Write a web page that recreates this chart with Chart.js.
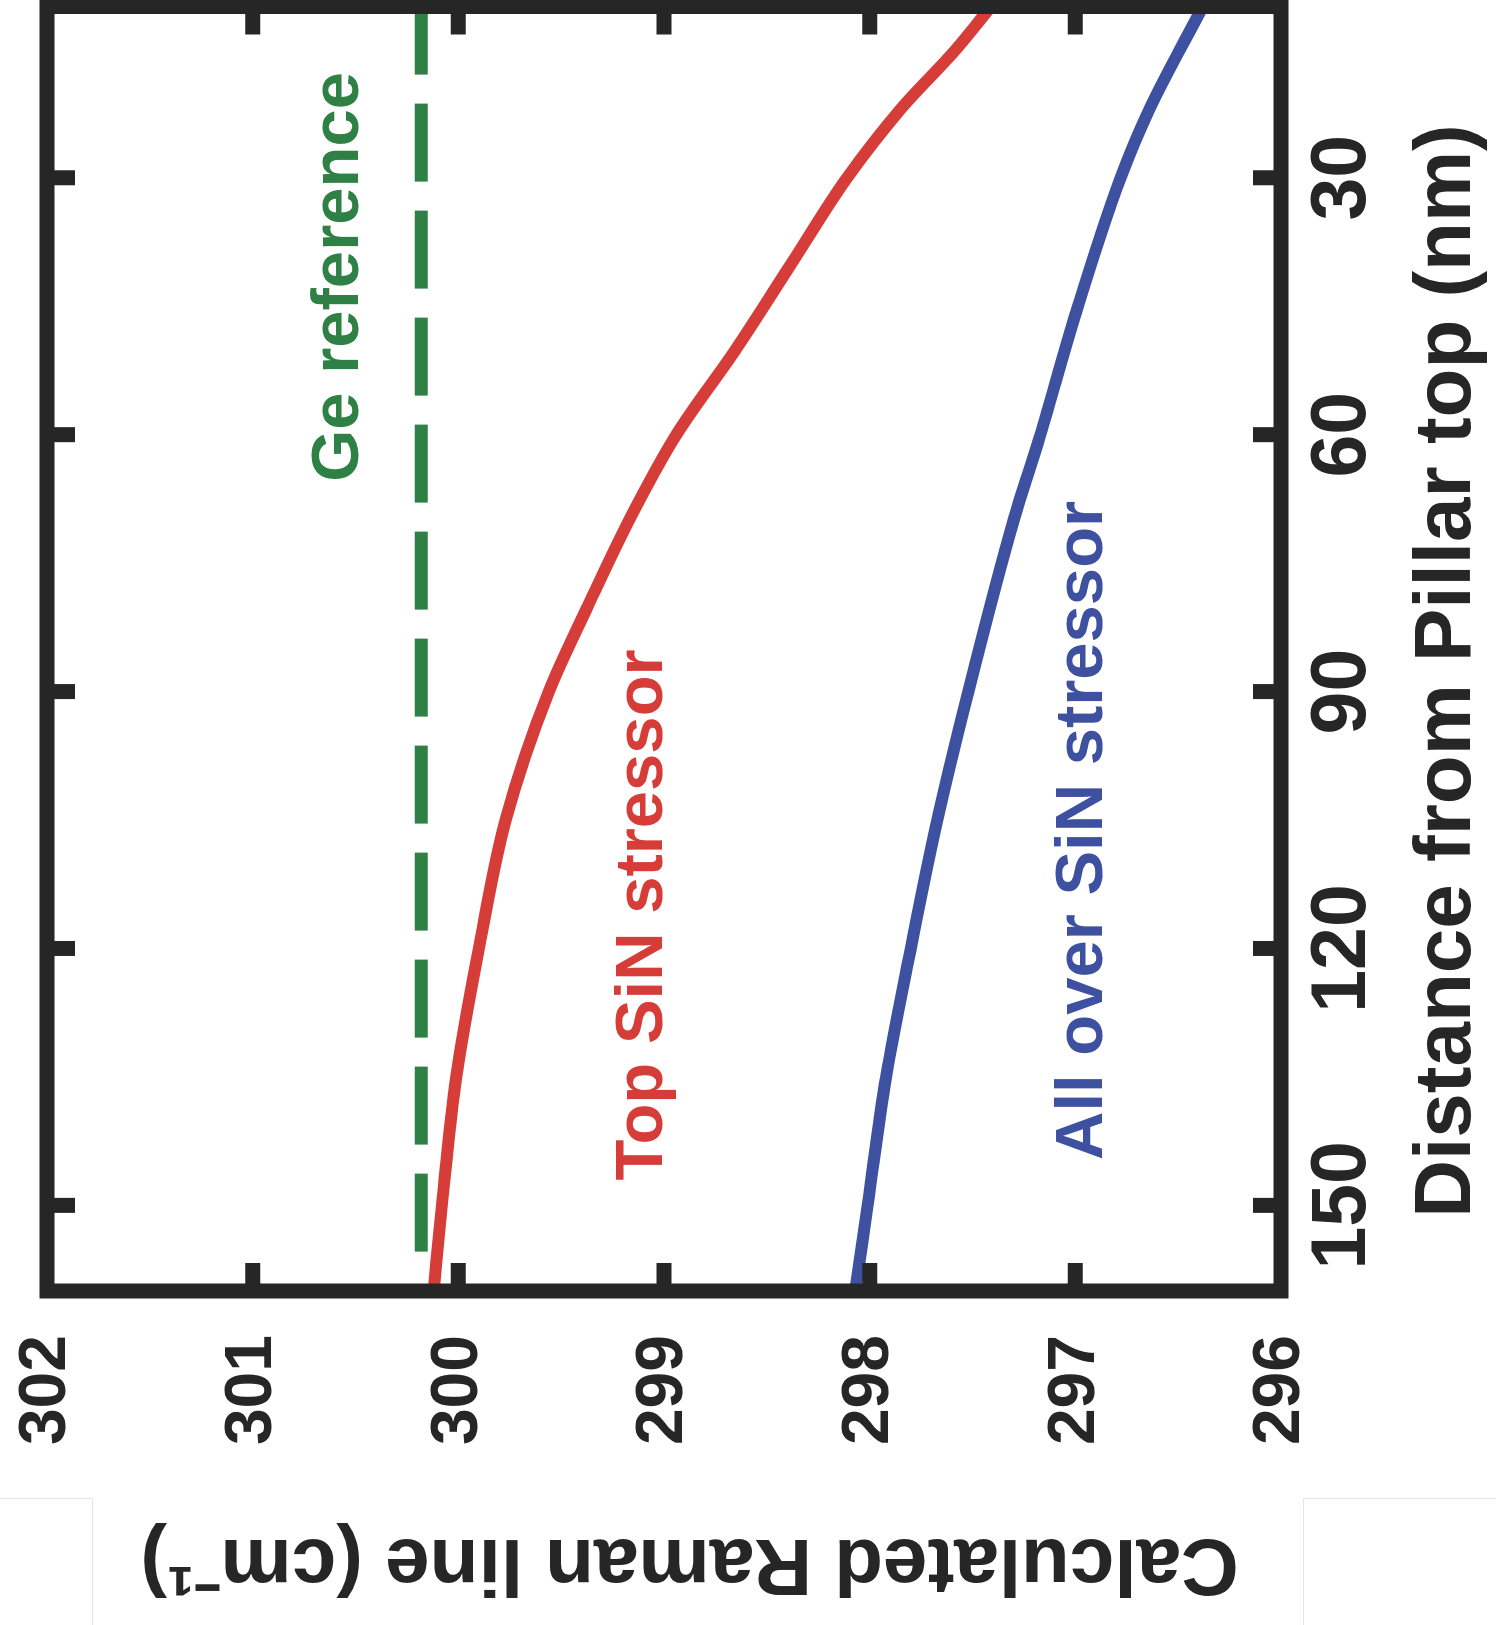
<!DOCTYPE html>
<html>
<head>
<meta charset="utf-8">
<title>Calculated Raman line</title>
<script src="https://cdn.jsdelivr.net/npm/chart.js@4.4.0/dist/chart.umd.min.js"></script>
<style>
  html, body { margin: 0; padding: 0; background: #fff; }
  body { width: 1496px; height: 1625px; position: relative; overflow: hidden; }
  /* the figure is drawn upright, then turned a quarter turn counter-clockwise */
  #wrap {
    position: absolute; left: 0; top: 0;
    width: 1625px; height: 1496px;
    transform-origin: 0 0;
    transform: translate(0, 1625px) rotate(-90deg);
  }
  .edge { position: absolute; background: #e6e6e6; }
</style>
</head>
<body>
<div id="wrap"><canvas id="ramanChart" width="1625" height="1496"></canvas></div>
<div class="edge" style="left:0;top:1498px;width:92px;height:1px"></div>
<div class="edge" style="left:92px;top:1498px;width:1px;height:127px"></div>
<div class="edge" style="left:1303px;top:1498px;width:193px;height:1px"></div>
<div class="edge" style="left:1303px;top:1498px;width:1px;height:127px"></div>
<script>
// axis ticks
const distTicks = [30, 60, 90, 120, 150];
const ramanTicks = [296, 297, 298, 299, 300, 301, 302];

// Top SiN stressor (red)
const topSinDist = [10, 15, 22, 30, 40, 50, 60, 70, 80, 90, 105, 120, 135, 150, 160];
const topSinRaman = [297.41, 297.58, 297.85, 298.11, 298.38, 298.65, 298.94, 299.17, 299.37, 299.56, 299.77, 299.90, 300.01, 300.08, 300.12];

// All over SiN stressor (blue)
const allOverDist = [10, 22, 30, 46, 60, 70, 90, 106, 120, 135, 150, 160];
const allOverRaman = [296.38, 296.64, 296.78, 297.00, 297.17, 297.30, 297.52, 297.68, 297.80, 297.92, 298.01, 298.07];

// Ge reference (green, dashed)
const geRefDist = [155.4, 10];
const geRefRaman = [300.18, 300.18];

// in-plot labels: text, colour, anchor (distance, raman)
const notes = [
  { text: 'Ge reference', color: '#2e8044', d: 65.5, r: 300.49 },
  { text: 'Top SiN stressor', color: '#d63c38', d: 147.1, r: 299.01 },
  { text: 'All over SiN stressor', color: '#3e50a0', d: 144.7, r: 296.87 }
];

const ink = '#262626';
const font = 'Liberation Sans, Arial, Helvetica, sans-serif';
Chart.defaults.font.family = font;

const toPts = (xs, ys) => xs.map((v, i) => ({ x: v, y: ys[i] }));

// box round the plot, inward ticks on all four sides, and the text labels
const frame = {
  id: 'frame',
  afterDatasetsDraw(chart) {
    const { ctx, scales: { x, y } } = chart;
    ctx.save();
    ctx.font = 'bold 67px ' + font;
    ctx.textAlign = 'left';
    ctx.textBaseline = 'alphabetic';
    notes.forEach(n => {
      ctx.fillStyle = n.color;
      ctx.fillText(n.text, x.getPixelForValue(n.d), y.getPixelForValue(n.r));
    });
    ctx.restore();
  },
  afterDraw(chart) {
    const { ctx, chartArea: a, scales: { x, y } } = chart;
    const len = 28;
    ctx.save();
    ctx.strokeStyle = ink;
    ctx.lineWidth = 15;
    ctx.beginPath();
    distTicks.forEach(v => {
      const px = x.getPixelForValue(v);
      ctx.moveTo(px, a.top); ctx.lineTo(px, a.top + len);
      ctx.moveTo(px, a.bottom); ctx.lineTo(px, a.bottom - len);
    });
    ramanTicks.slice(1, -1).forEach(v => {
      const py = y.getPixelForValue(v);
      ctx.moveTo(a.left, py); ctx.lineTo(a.left + len, py);
      ctx.moveTo(a.right, py); ctx.lineTo(a.right - len, py);
    });
    ctx.stroke();
    ctx.lineJoin = 'miter';
    ctx.strokeRect(a.left, a.top, a.width, a.height);
    ctx.restore();
  }
};

const ctx = document.getElementById('ramanChart').getContext('2d');
new Chart(ctx, {
  type: 'line',
  data: {
    datasets: [
      {
        label: 'Ge reference',
        data: toPts(geRefDist, geRefRaman),
        borderColor: '#2e8044',
        borderWidth: 13,
        borderDash: [78, 29],
        borderCapStyle: 'butt',
        pointRadius: 0
      },
      {
        label: 'Top SiN stressor',
        data: toPts(topSinDist, topSinRaman),
        borderColor: '#d63c38',
        borderWidth: 12,
        cubicInterpolationMode: 'monotone',
        pointRadius: 0
      },
      {
        label: 'All over SiN stressor',
        data: toPts(allOverDist, allOverRaman),
        borderColor: '#3e50a0',
        borderWidth: 12,
        cubicInterpolationMode: 'monotone',
        pointRadius: 0
      }
    ]
  },
  options: {
    responsive: false,
    animation: false,
    layout: { padding: { top: 47, right: 6.5, bottom: 0, left: 0 } },
    plugins: {
      legend: { display: false },
      tooltip: { enabled: false }
    },
    scales: {
      x: {
        type: 'linear',
        position: 'bottom',
        min: 10,
        max: 160,
        reverse: true,
        afterBuildTicks: s => { s.ticks = distTicks.map(v => ({ value: v })); },
        afterFit: s => { s.height = 215; s.paddingLeft = 0; s.paddingRight = 0; },
        grid: { display: false, drawTicks: false },
        border: { display: false },
        ticks: {
          color: ink,
          font: { size: 77, weight: 'bold' },
          padding: 17,
          maxRotation: 0,
          autoSkip: false
        },
        title: {
          display: true,
          text: 'Distance from Pillar top (nm)  ',
          color: ink,
          font: { size: 80, weight: 'bold' },
          padding: { top: 0, bottom: 0 }
        }
      },
      y: {
        type: 'linear',
        position: 'left',
        min: 296,
        max: 302,
        afterBuildTicks: s => { s.ticks = ramanTicks.map(v => ({ value: v })); },
        afterFit: s => { s.width = 334; s.paddingTop = 0; s.paddingBottom = 0; },
        grid: { display: false, drawTicks: false },
        border: { display: false },
        ticks: {
          color: ink,
          font: { size: 66, weight: 'bold' },
          padding: 44
        },
        title: {
          display: true,
          text: 'Calculated Raman line (cm\u207B\u00B9)  \u200A',
          color: ink,
          font: { size: 80, weight: 'bold' },
          padding: { top: 15, bottom: 0 }
        }
      }
    }
  },
  plugins: [frame]
});
</script>
</body>
</html>
